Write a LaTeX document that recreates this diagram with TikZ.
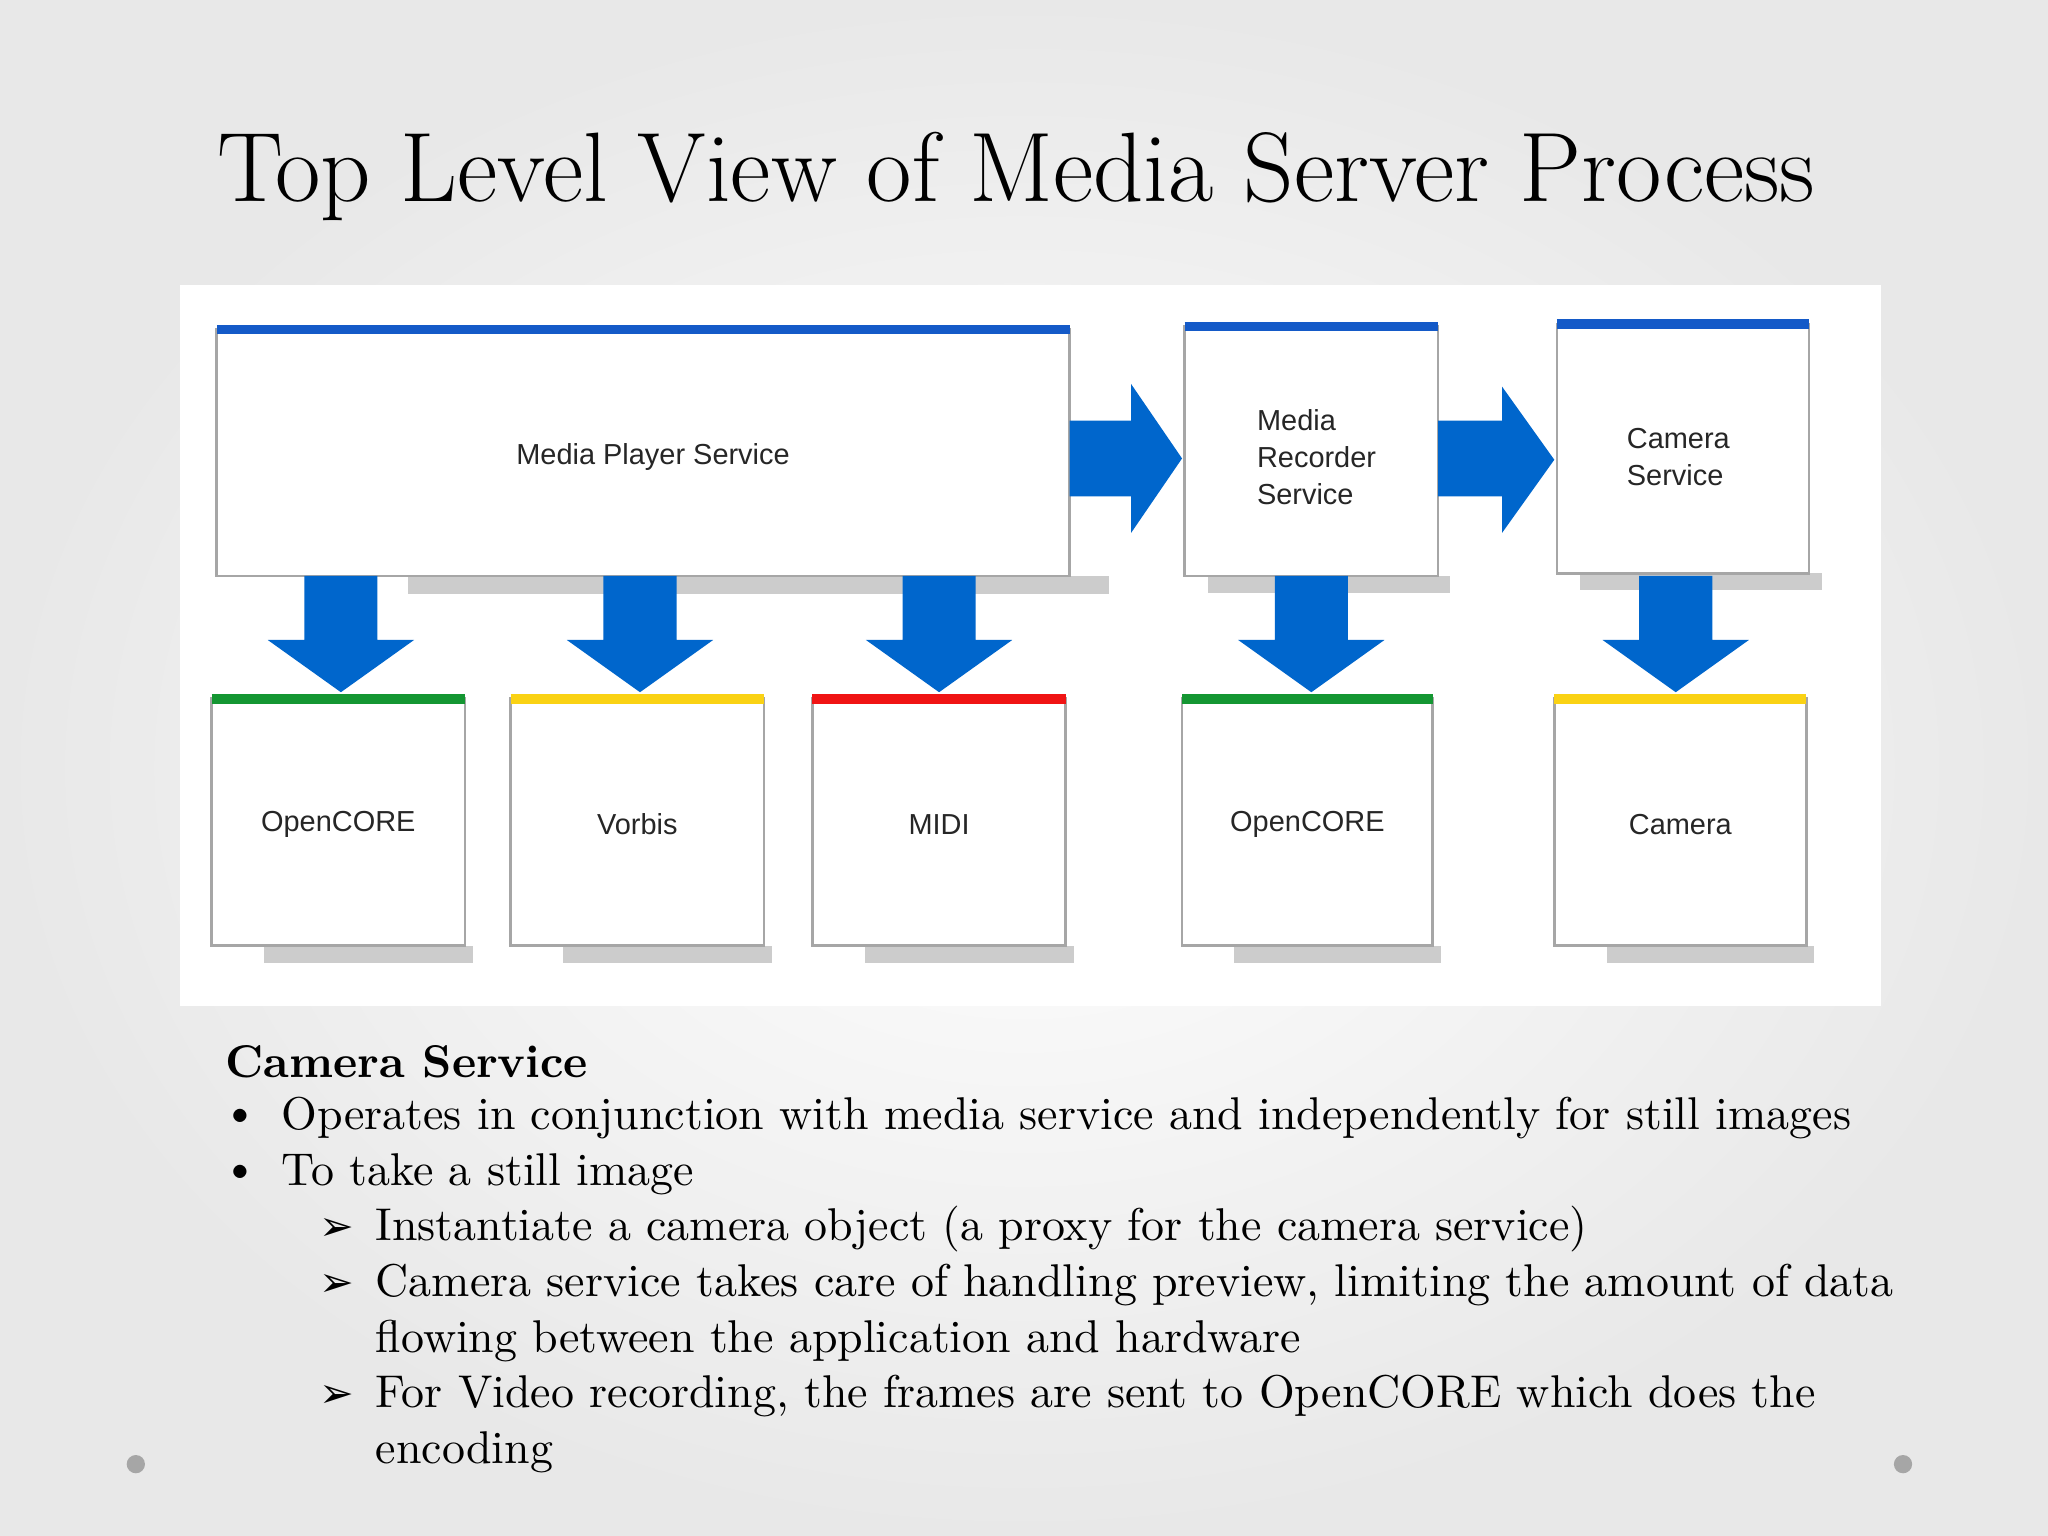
\documentclass[tikz,border=0pt]{standalone}
\usepackage{fontspec}
\newfontfamily\boxfont{Liberation Sans}
\newfontfamily\symfont{DejaVu Sans}
\definecolor{arrblue}{RGB}{0,102,204}
\definecolor{topblue}{RGB}{20,90,200}
\definecolor{topgreen}{RGB}{20,150,50}
\definecolor{topyellow}{RGB}{250,210,20}
\definecolor{topred}{RGB}{240,20,20}
\tikzset{
  box/.style={draw=gray!70, fill=white, line width=0.6pt, inner sep=0pt},
  lbl/.style={font=\boxfont\fontsize{6.3}{8}\selectfont, align=left, text=black!85},
  body/.style={anchor=west, inner sep=0pt, font=\fontsize{10}{12}\selectfont},
  shadow/.style={fill=gray!40},
  bigarrow/.style={fill=arrblue},
}
\begin{document}
\begin{tikzpicture}[x=0.01cm,y=-0.01cm]
\shade[inner color=white, outer color=gray!18] (0,0) rectangle (1568,1176);
\useasboundingbox (0,0) rectangle (1568,1176);
\fill[white] (138,218) rectangle (1440,770);

\node[anchor=center, font=\fontsize{21.5}{26}\selectfont] (title) at (778,135) {Top Level View of Media Server Process};

% shadows
\fill[shadow] (312,441) rectangle (849,455);
\fill[shadow] (925,441) rectangle (1110,454);
\fill[shadow] (1210,439) rectangle (1395,452);
\foreach \x/\r in {162/356,391/585,622/816,905/1097,1190/1383}
  \fill[shadow] (\x+40,724) rectangle (\r+6,737);

% top boxes
\draw[box] (166,252) rectangle (819,441);
\node[lbl] (mps) at (500,350) {Media Player Service};
\draw[box] (907,250) rectangle (1101,441);
\node[lbl] (mrs) at (1008,350) {Media\\Recorder\\Service};
\draw[box] (1192,248) rectangle (1385,439);
\node[lbl] (cs) at (1285,350) {Camera\\Service};
\draw[topblue, line width=2pt] (166,252) -- (819,252);
\draw[topblue, line width=2pt] (907,250) -- (1101,250);
\draw[topblue, line width=2pt] (1192,248) -- (1385,248);

% bottom boxes
\foreach \x/\r/\c/\t/\n in {162/356/topgreen/OpenCORE/oc1,391/585/topyellow/Vorbis/vb,622/816/topred/MIDI/midi,905/1097/topgreen/OpenCORE/oc2,1190/1383/topyellow/Camera/cam}{
  \draw[box] (\x,535) rectangle (\r,724);
  \draw[\c, line width=2.2pt] (\x,535) -- (\r,535);
  \node[lbl] (\n) at ({(\x+\r)/2},631) {\t};
}

% down arrows
\foreach \cx in {261,490,719,1004,1283}
  \fill[bigarrow] (\cx-28,441) -- (\cx+28,441) -- (\cx+28,490) -- (\cx+56,490)
     -- (\cx,530) -- (\cx-56,490) -- (\cx-28,490) -- cycle;
% right arrows
\fill[bigarrow] (819,322) -- (866,322) -- (866,294) -- (905,351) -- (866,408) -- (866,380) -- (819,380) -- cycle;
\fill[bigarrow] (1101,322) -- (1150,322) -- (1150,296) -- (1190,352) -- (1150,408) -- (1150,380) -- (1101,380) -- cycle;

% text
\node[body, font=\fontsize{10}{12}\selectfont\bfseries] (h) at (172,813) {Camera Service};
\node[body] (b1d) at (170,856) {\textbullet};
\node[body] (b1) at (215,856) {Operates in conjunction with media service and independently for still images};
\node[body] (b2d) at (170,899) {\textbullet};
\node[body] (b2) at (215,899) {To take a still image};
\foreach \y in {941,984,1069}
  \node[body, font=\symfont\fontsize{9}{10}\selectfont] at (244,\y) {➢};
\node[body] (s1) at (287,941) {Instantiate a camera object (a proxy for the camera service)};
\node[body] (s2) at (287,984) {Camera service takes care of handling preview, limiting the amount of data};
\node[body] (s2b) at (287,1027) {flowing between the application and hardware};
\node[body] (s3) at (287,1069) {For Video recording, the frames are sent to OpenCORE which does the};
\node[body] (s3b) at (287,1112) {encoding};

\fill[gray!70] (104,1121) circle (7);
\fill[gray!70] (1457,1121) circle (7);
\end{tikzpicture}
\end{document}
